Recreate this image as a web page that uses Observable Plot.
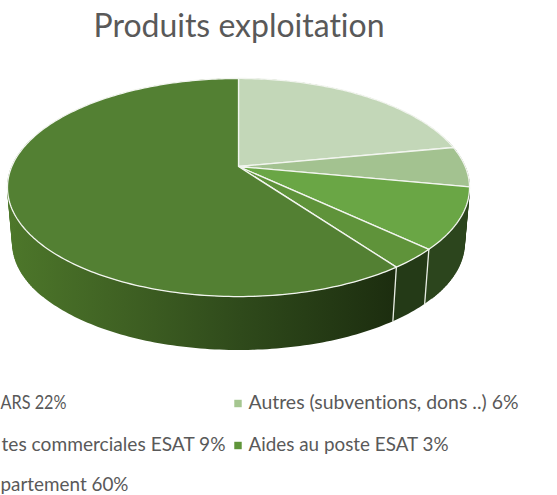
<!DOCTYPE html>
<html><head><meta charset="utf-8">
<script src="https://cdn.jsdelivr.net/npm/d3@7"></script>
<script src="https://cdn.jsdelivr.net/npm/@observablehq/plot@0.6"></script>
<style>html,body{margin:0;padding:0;background:#fff;overflow:hidden}svg{display:block}svg text{font-variant-ligatures:none}</style>
</head><body><div id="chart"></div>
<script>
const titleText = "Produits exploitation";
const categories = ["ARS", "Autres", "Ventes", "Aides", "Departement"];
const shares = [22, 6, 9, 3, 60];
const topColors = ["#c3d7b8", "#a3c290", "#6aa645", "#5f933a", "#538033"];
const sideColors = ["#3a5a24", "#34521f", "#2c451d", "#243a17", "url(#deptSide)"];
const legendLabels = ["ARS 22%", "Autres (subventions, dons ..) 6%", "tes commerciales ESAT 9%", "Aides au poste ESAT 3%", "partement 60%"];
const legendSwatches = ["#a5c690", "#5f953a"];

// view of the tilted disc
const cx = 238, cy = 166, A = 226.7, B = 105, p = 0.1927, drop = 56.3, shrink = 0.978;
const project = (deg, low) => {
  const t = deg * Math.PI / 180, u = Math.sin(t), v = -Math.cos(t), d = 1 - p * v, s = low ? shrink : 1;
  return {x: cx + s * A * u / d, y: cy + (low ? drop : 0) + s * B * v / d};
};
const total = d3.sum(shares);
const bounds = Array.from(d3.cumsum(shares), c => c / total * 360);
const slices = categories.map((name, i) => ({name, i, a0: i ? bounds[i - 1] : 0, a1: bounds[i]}));
const steps = s => d3.range(0, 1.0001, 1 / Math.max(8, Math.ceil(s.a1 - s.a0))).map(f => s.a0 + f * (s.a1 - s.a0));
const topPoly = s => [{x: cx, y: cy}, ...steps(s).map(a => project(a, false))];
const wallPoly = s => [...steps(s).map(a => project(a, false)), ...steps(s).reverse().map(a => project(a, true))];
// facets near the left and right limbs fill the sliver up to the tangent edge
const limbFacets = s => d3.pairs(steps(s))
  .filter(([a]) => Math.abs(Math.cos(a * Math.PI / 180) + p) < 0.45)
  .flatMap(([a, b], k) => [project(a, false), project(b, false), project(b, true), project(a, true)].map(q => ({...q, k})));
const frontEdges = bounds.filter(a => Math.cos(a * Math.PI / 180) < -0.5);

const gradient = () => {
  const defs = d3.create("svg:defs");
  const g = defs.append("linearGradient").attr("id", "deptSide").attr("gradientUnits", "userSpaceOnUse")
    .attr("x1", 7).attr("x2", 395).attr("y1", 0).attr("y2", 0);
  [[0, "#4d772a"], [0.3, "#3f6123"], [0.6, "#2f4a1b"], [1, "#1c2d0f"]].forEach(([o, c]) =>
    g.append("stop").attr("offset", o).attr("stop-color", c));
  return defs.node();
};

const font = "Lato, 'Noto Sans', sans-serif";
const textRows = [
  {t: titleText, x: 93, y: 26, w: 291, s: 32},
  {t: legendLabels[0], x: 0, y: 402, w: 66, s: 19},
  {t: legendLabels[1], x: 248, y: 402, w: 270, s: 19},
  {t: legendLabels[2], x: 1, y: 444, w: 224, s: 19},
  {t: legendLabels[3], x: 248, y: 444, w: 200, s: 19},
  {t: legendLabels[4], x: 0, y: 484.5, w: 128, s: 19}
];

const chart = Plot.plot({
  width: 557, height: 495, margin: 0,
  style: {background: "#fff"},
  x: {axis: null, domain: [0, 557], range: [0, 557]},
  y: {axis: null, domain: [0, 495], range: [0, 495]},
  marks: [
    gradient,
    ...slices.map(s => Plot.line(limbFacets(s), {x: "x", y: "y", z: "k", curve: "linear-closed", fill: sideColors[s.i], stroke: sideColors[s.i], strokeWidth: 0.4})),
    ...slices.map(s => Plot.line(wallPoly(s), {x: "x", y: "y", curve: "linear-closed", fill: sideColors[s.i], stroke: "none"})),
    Plot.line(frontEdges.flatMap(a => [{a, ...project(a, false)}, {a, ...project(a, true)}]), {x: "x", y: "y", z: "a", stroke: "#e8ede4", strokeWidth: 1.3}),
    ...slices.map(s => Plot.line(topPoly(s), {x: "x", y: "y", curve: "linear-closed", fill: topColors[s.i], stroke: "#f2f5ef", strokeWidth: 1.3, strokeLinejoin: "round"})),
    Plot.text(textRows, {x: "x", y: "y", text: "t", fontSize: "s", fontFamily: font, fill: "#595959", textAnchor: "start"}),
    Plot.dot(legendSwatches.map((c, i) => ({c, y: 403 + 42 * i})), {x: () => 237.5, y: "y", symbol: "square", r: 4.2, fill: d => d.c, stroke: "none"})
  ]
});
d3.select(chart).selectAll("text").each(function () {
  const row = textRows.find(r => r.t === this.textContent);
  if (row) d3.select(this).attr("textLength", row.w).attr("lengthAdjust", "spacingAndGlyphs");
});
document.getElementById("chart").append(chart);
</script></body></html>
